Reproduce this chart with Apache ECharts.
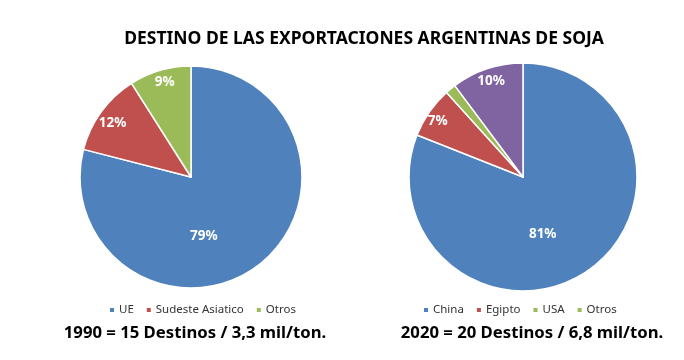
<!DOCTYPE html>
<html>
<head>
<meta charset="utf-8">
<script src="https://cdn.jsdelivr.net/npm/echarts@6/dist/echarts.min.js"></script>
<style>html,body{margin:0;padding:0;background:#fff}#c{width:684px;height:360px}</style>
</head>
<body>
<div id="c"></div>
<script>
const titleText = 'DESTINO DE LAS EXPORTACIONES ARGENTINAS DE SOJA';
const cats1990 = ['UE', 'Sudeste Asiatico', 'Otros'];
const vals1990 = [79, 12, 9];
const caption1990 = '1990 = 15 Destinos / 3,3 mil/ton.';
const cats2020 = ['China', 'Egipto', 'USA', 'Otros'];
const vals2020 = [81, 7.3, 1.5, 10.2];
const caption2020 = '2020 = 20 Destinos / 6,8 mil/ton.';

const colors1990 = ['#4F81BD', '#C0504D', '#9BBB59'];
const colors2020 = ['#4F81BD', '#C0504D', '#9BBB59', '#8064A2'];
const offsets1990 = [[-23, 13], [-31, -19], [-10, -39]];
const offsets2020 = [[-14, 8], [-36, -22], [0, 0], [-13, -39]];
const hideLabel2020 = [false, false, true, false];

const FONT = 'Noto Sans';
const chart = echarts.init(document.getElementById('c'), null, {renderer: 'canvas'});

function mkData(cats, vals, colors, offsets, hide) {
  return cats.map((c, i) => ({
    name: c, value: vals[i],
    itemStyle: {color: colors[i]},
    label: {offset: offsets[i], show: !(hide && hide[i])}
  }));
}

const labelCommon = {
  position: 'inside', color: '#fff', fontWeight: 'bold', fontSize: 13.5, fontFamily: FONT,
  formatter: p => Math.round(p.value) + '%'
};

chart.setOption({
  animation: false,
  title: [
    {text: titleText, left: 359, top: 25, textAlign: 'center',
     textStyle: {fontFamily: FONT, fontWeight: 'bold', fontSize: 17.5, color: '#000'}},
    {text: caption1990, left: 190, top: 320, textAlign: 'center',
     textStyle: {fontFamily: FONT, fontWeight: 'bold', fontSize: 16.7, color: '#000'}},
    {text: caption2020, left: 527, top: 320, textAlign: 'center',
     textStyle: {fontFamily: FONT, fontWeight: 'bold', fontSize: 16.7, color: '#000'}}
  ],
  legend: [
    {data: cats1990, left: 103, top: 299, icon: 'rect', itemWidth: 6, itemHeight: 6, itemGap: 11,
     textStyle: {fontFamily: FONT, fontSize: 11.5, color: '#333', padding: [0, 0, 0, -1]}},
    {data: cats2020, left: 417, top: 299, icon: 'rect', itemWidth: 6, itemHeight: 6, itemGap: 11,
     textStyle: {fontFamily: FONT, fontSize: 11.5, color: '#333', padding: [0, 0, 0, -1]}}
  ],
  series: [
    {type: 'pie', center: [191, 177], radius: 111, startAngle: 90, clockwise: true,
     itemStyle: {borderColor: '#fff', borderWidth: 1.5},
     label: labelCommon, labelLine: {show: false},
     data: mkData(cats1990, vals1990, colors1990, offsets1990)},
    {type: 'pie', center: [523, 177], radius: 114, startAngle: 90, clockwise: true,
     itemStyle: {borderColor: '#fff', borderWidth: 1.5},
     label: labelCommon, labelLine: {show: false},
     data: mkData(cats2020, vals2020, colors2020, offsets2020, hideLabel2020)}
  ]
});
</script>
</body>
</html>
